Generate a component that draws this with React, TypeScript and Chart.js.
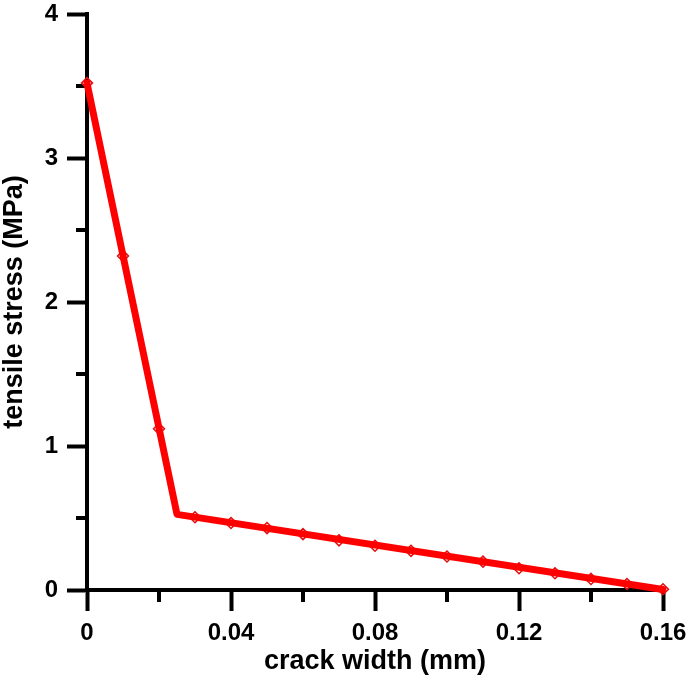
import React, { useEffect, useRef } from "react";
import { Chart, registerables } from "chart.js";

Chart.register(...registerables);

// Piecewise-linear softening curve (line)
const lineX = [0, 0.025, 0.16];
const lineY = [3.52, 0.525, 0.003];

// Hollow diamond markers
const markerX = [0, 0.01, 0.02, 0.03, 0.04, 0.05, 0.06, 0.07, 0.08, 0.09, 0.1, 0.11, 0.12, 0.13, 0.14, 0.15, 0.16];
const markerY = [3.52, 2.32, 1.12, 0.505, 0.465, 0.43, 0.388, 0.345, 0.307, 0.272, 0.233, 0.197, 0.151, 0.116, 0.077, 0.042, 0.005];

// Ticks
const xMajorTicks = [0, 0.04, 0.08, 0.12, 0.16];
const xMinorTicks = [0.02, 0.06, 0.1, 0.14];
const yMajorTicks = [0, 1, 2, 3, 4];
const yMinorTicks = [0.5, 1.5, 2.5, 3.5];

const xTitle = "crack width (mm)";
const yTitle = "tensile stress (MPa)";

const FONT = "'Liberation Sans', Arial, Helvetica, sans-serif";

const minorTicksPlugin = {
  id: "minorTicks",
  beforeDatasetsDraw(chart: any) {
    const ctx = chart.ctx;
    const xs = chart.scales.x;
    const ys = chart.scales.y;
    ctx.save();
    ctx.strokeStyle = "#000";
    ctx.lineWidth = 4;
    ctx.lineCap = "butt";
    xMinorTicks.forEach((v) => {
      const px = xs.getPixelForValue(v);
      ctx.beginPath();
      ctx.moveTo(px, xs.top);
      ctx.lineTo(px, xs.top + 12);
      ctx.stroke();
    });
    yMinorTicks.forEach((v) => {
      const py = ys.getPixelForValue(v);
      ctx.beginPath();
      ctx.moveTo(ys.right, py);
      ctx.lineTo(ys.right - 11, py);
      ctx.stroke();
    });
    ctx.restore();
  },
};

export default function App() {
  const ref = useRef<HTMLCanvasElement | null>(null);

  useEffect(() => {
    document.body.style.margin = "0";
    const canvas = ref.current;
    if (!canvas) return;
    const chart = new Chart(canvas, {
      type: "scatter",
      data: {
        datasets: [
          {
            label: "curve",
            data: lineX.map((x, i) => ({ x, y: lineY[i] })),
            showLine: true,
            borderColor: "#ff0000",
            borderWidth: 7,
            borderJoinStyle: "round",
            borderCapStyle: "round",
            pointRadius: 0,
            tension: 0,
            clip: false as any,
            order: 1,
          },
          {
            label: "points",
            data: markerX.map((x, i) => ({ x, y: markerY[i] })),
            showLine: false,
            pointStyle: "rectRot",
            pointRadius: 5.5,
            pointBorderWidth: 1.5,
            pointBorderColor: "#e01010",
            pointBackgroundColor: "rgba(255,255,255,0)",
            clip: false as any,
            order: 2,
          },
        ],
      },
      options: {
        responsive: false,
        animation: false,
        events: [],
        layout: { padding: { left: 0, right: 26, top: 14, bottom: 0 } },
        plugins: {
          legend: { display: false },
          tooltip: { enabled: false },
        },
        scales: {
          x: {
            type: "linear",
            min: 0,
            max: 0.16,
            afterBuildTicks: (s: any) => {
              s.ticks = xMajorTicks.map((v) => ({ value: v }));
            },
            afterFit: (s: any) => {
              s.height = 89;
              s.paddingLeft = 0;
              s.paddingRight = 0;
              s.paddingTop = 0;
              s.paddingBottom = 0;
            },
            grid: {
              display: true,
              drawOnChartArea: false,
              drawTicks: true,
              tickLength: 21,
              tickWidth: 4,
              tickColor: "#000",
            },
            border: { display: true, width: 4, color: "#000" },
            ticks: {
              autoSkip: false,
              maxRotation: 0,
              padding: 8,
              color: "#000",
              font: { family: FONT, size: 24, weight: "bold" },
              callback: (v: any) => String(v),
            },
            title: {
              display: true,
              text: xTitle,
              color: "#000",
              font: { family: FONT, size: 27, weight: "bold", lineHeight: 1 },
              padding: { top: 0, bottom: 4 },
            },
          },
          y: {
            type: "linear",
            min: 0,
            max: 4,
            afterBuildTicks: (s: any) => {
              s.ticks = yMajorTicks.map((v) => ({ value: v }));
            },
            afterFit: (s: any) => {
              s.width = 87;
              s.paddingLeft = 0;
              s.paddingRight = 0;
              s.paddingTop = 0;
              s.paddingBottom = 0;
            },
            grid: {
              display: true,
              drawOnChartArea: false,
              drawTicks: true,
              tickLength: 20,
              tickWidth: 4,
              tickColor: "#000",
            },
            border: { display: true, width: 4, color: "#000" },
            ticks: {
              autoSkip: false,
              padding: 9,
              color: "#000",
              font: { family: FONT, size: 24, weight: "bold" },
              callback: (v: any) => String(v),
            },
            title: {
              display: true,
              text: yTitle,
              color: "#000",
              font: { family: FONT, size: 27, weight: "bold", lineHeight: 1 },
              padding: { top: 1, bottom: 0 },
            },
          },
        },
      },
      plugins: [minorTicksPlugin],
    } as any);
    return () => chart.destroy();
  }, []);

  return (
    <div style={{ position: "relative", width: 689, height: 679, background: "#fff" }}>
      <canvas ref={ref} width={689} height={679} style={{ display: "block" }} />
    </div>
  );
}
